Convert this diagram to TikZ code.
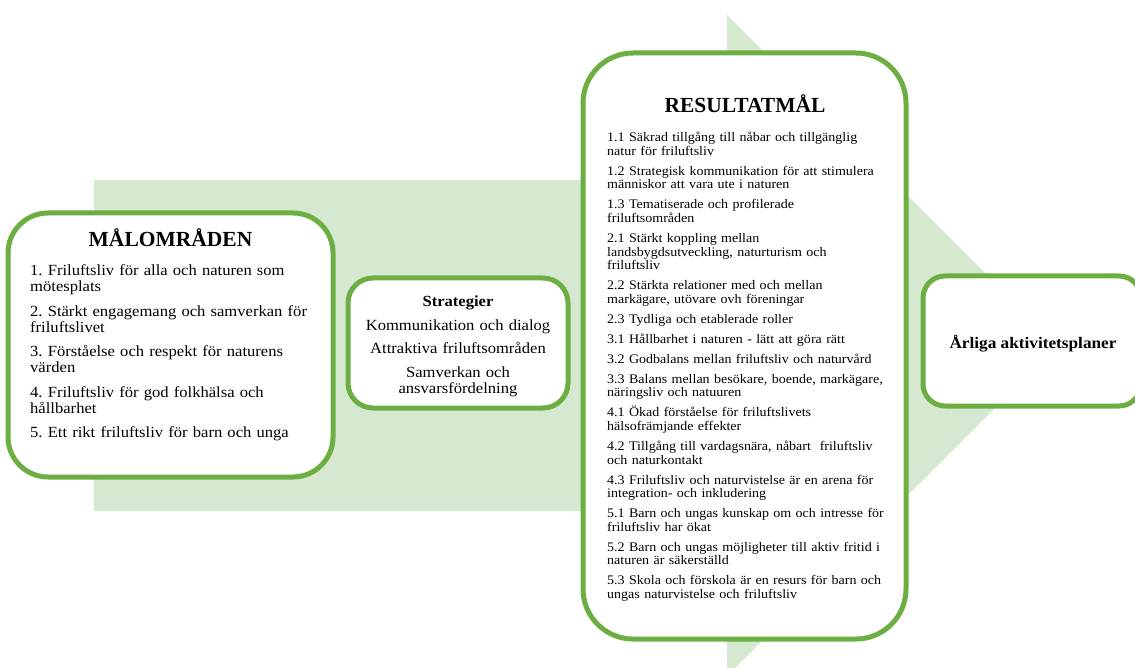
\documentclass[tikz,border=0pt]{standalone}
\usepackage{fontspec}
\setmainfont{Liberation Serif}[FakeStretch=1.07]
\newfontfamily\titlefont{Liberation Serif}
\definecolor{boxgreen}{HTML}{6DAE43}
\definecolor{arrowfill}{HTML}{D5E8D0}
\frenchspacing
\begin{document}
\begin{tikzpicture}[x=1pt,y=-1pt,
  greenbox/.style={draw=boxgreen, line width=5pt, fill=white, rounded corners=#1, inner sep=0pt},
  titletext/.style={anchor=base, inner sep=0pt, font=\titlefont\bfseries\fontsize{21.5}{24}\selectfont},
  bigitems/.style={inner sep=0pt, text width=#1, font=\frenchspacing\fontsize{15.5}{16}\selectfont},
  smallitems/.style={inner sep=0pt, text width=#1, font=\frenchspacing\fontsize{13.1}{13.6}\selectfont}
]
\clip (0,0) rectangle (1135,668);
\useasboundingbox (0,0) rectangle (1135,668);

% big background arrow
\fill[arrowfill] (94,180) -- (727,180) -- (727,15) -- (1057.5,345.5) -- (727,676) -- (727,511) -- (94,511) -- cycle;

% boxes
\node[greenbox=40pt, minimum width=325pt, minimum height=264pt] (mal) at (170.5,345) {};
\node[greenbox=25pt, minimum width=220pt, minimum height=130pt] (strat) at (458,343) {};
\node[greenbox=50pt, minimum width=323pt, minimum height=586pt] (res) at (744.5,346) {};
\node[greenbox=22pt, minimum width=218pt, minimum height=130pt] (arl) at (1032,341) {};

% Målområden
\node[titletext] (maltitle) at (170.5,247) {MÅLOMRÅDEN};
\node[bigitems=295pt, anchor=base west, align=left] (malitems) at (30,276) {%
1. Friluftsliv för alla och naturen som\\ mötesplats\\[8.5pt]
2. Stärkt engagemang och samverkan för\\ friluftslivet\\[8.5pt]
3. Förståelse och respekt för naturens\\ värden\\[8.5pt]
4. Friluftsliv för god folkhälsa och\\ hållbarhet\\[8.5pt]
5. Ett rikt friluftsliv för barn och unga};

% Strategier
\node[bigitems=210pt, anchor=base, align=center] (strattext) at (458,307) {%
\textbf{Strategier}\\[7.5pt]
Kommunikation och dialog\\[7pt]
Attraktiva friluftsområden\\[8pt]
Samverkan och\\ ansvarsfördelning};

% Resultatmål
\node[titletext] (restitle) at (745,113) {RESULTATMÅL};
\node[smallitems=295pt, anchor=base west, align=left] (resitems) at (607,141.7) {%
1.1 Säkrad tillgång till nåbar och tillgänglig\\ natur för friluftsliv\\[6.4pt]
1.2 Strategisk kommunikation för att stimulera\\ människor att vara ute i naturen\\[6.4pt]
1.3 Tematiserade och profilerade\\ friluftsområden\\[6.4pt]
2.1 Stärkt koppling mellan\\ landsbygdsutveckling, naturturism och\\ friluftsliv\\[6.4pt]
2.2 Stärkta relationer med och mellan\\ markägare, utövare ovh föreningar\\[6.4pt]
2.3 Tydliga och etablerade roller\\[6.4pt]
3.1 Hållbarhet i naturen - lätt att göra rätt\\[6.4pt]
3.2 Godbalans mellan friluftsliv och naturvård\\[6.4pt]
3.3 Balans mellan besökare, boende, markägare,\\ näringsliv och natuuren\\[6.4pt]
4.1 Ökad förståelse för friluftslivets\\ hälsofrämjande effekter\\[6.4pt]
4.2 Tillgång till vardagsnära, nåbart\ \ friluftsliv\\ och naturkontakt\\[6.4pt]
4.3 Friluftsliv och naturvistelse är en arena för\\ integration- och inkludering\\[6.4pt]
5.1 Barn och ungas kunskap om och intresse för\\ friluftsliv har ökat\\[6.4pt]
5.2 Barn och ungas möjligheter till aktiv fritid i\\ naturen är säkerställd\\[6.4pt]
5.3 Skola och förskola är en resurs för barn och\\ ungas naturvistelse och friluftsliv};

% Årliga aktivitetsplaner
\node[anchor=base, inner sep=0pt, font=\bfseries\fontsize{16.1}{16}\selectfont] (arltext) at (1033,348) {Årliga aktivitetsplaner};
\end{tikzpicture}
\end{document}
